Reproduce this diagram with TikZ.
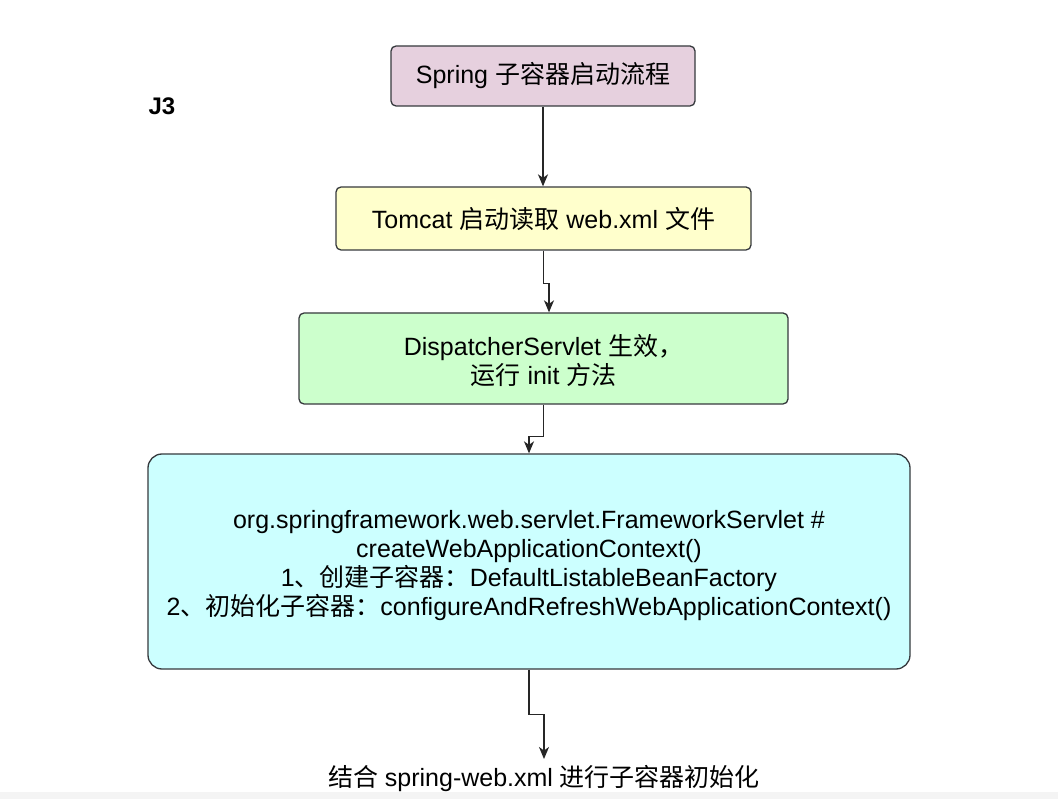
\documentclass[tikz,border=0pt]{standalone}
\usepackage{fontspec}
\setmainfont{Liberation Sans}
\newfontfamily\cjk{Noto Sans CJK SC}
\usetikzlibrary{arrows.meta}
\definecolor{strokec}{HTML}{36393D}
\definecolor{pinkf}{HTML}{E6D0DE}
\definecolor{yellowf}{HTML}{FFFFCC}
\definecolor{greenf}{HTML}{CCFFCC}
\definecolor{cyanf}{HTML}{CCFFFF}
\definecolor{stripc}{HTML}{F4F4F4}
\tikzset{
  box/.style={draw=strokec, line width=1.3pt, rounded corners=5pt, align=center, inner sep=0pt, text=black},
  conn/.style={draw=black!85, line width=1.3pt, -{Stealth[length=12pt,width=10pt,inset=3.5pt]}},
  t25/.style={font=\fontsize{25}{29}\selectfont},
}
\begin{document}
\begin{tikzpicture}[x=1pt,y=-1pt]
\useasboundingbox (0,0) rectangle (1058,799);
\fill[white] (0,0) rectangle (1058,799);
\fill[stripc] (0,792) rectangle (1058,799);

\node[font=\fontsize{24}{28}\selectfont\bfseries] (j3) at (162,106) {J3};

\node[box, fill=pinkf, t25, minimum width=304pt, minimum height=60pt] (b1) at (543,76) {Spring {\cjk 子容器启动流程}};
\node[box, fill=yellowf, t25, minimum width=415pt, minimum height=63pt] (b2) at (543.5,218.5) {Tomcat {\cjk 启动读取} web.xml {\cjk 文件}};
\node[box, fill=greenf, t25, minimum width=489pt, minimum height=91pt] (b3) at (543.5,358.5) {\rule{0pt}{26pt}DispatcherServlet {\cjk 生效，}\\{\cjk 运行} init {\cjk 方法}};
\node[box, fill=cyanf, t25, rounded corners=14pt, minimum width=762pt, minimum height=215pt] (b4) at (529,561.5) {\rule{0pt}{27pt}org.springframework.web.servlet.FrameworkServlet \#\\createWebApplicationContext()\\1{\cjk 、创建子容器：}DefaultListableBeanFactory\\2{\cjk 、初始化子容器：}configureAndRefreshWebApplicationContext()};

\node[t25, inner sep=0pt] (end) at (544,779) {{\cjk 结合} spring-web.xml {\cjk 进行子容器初始化}};
\coordinate (tip) at (544,759);

\draw[conn] (b1.south) -- (b1.south |- b2.north);
\draw[conn] (b2.south) -- ++(0,33) -| ([xshift=5.5pt]b3.north);
\draw[conn] (b3.south) -- ++(0,32) -| (b4.north);
\draw[conn] (b4.south) -- ++(0,45) -| (tip);
\end{tikzpicture}
\end{document}
